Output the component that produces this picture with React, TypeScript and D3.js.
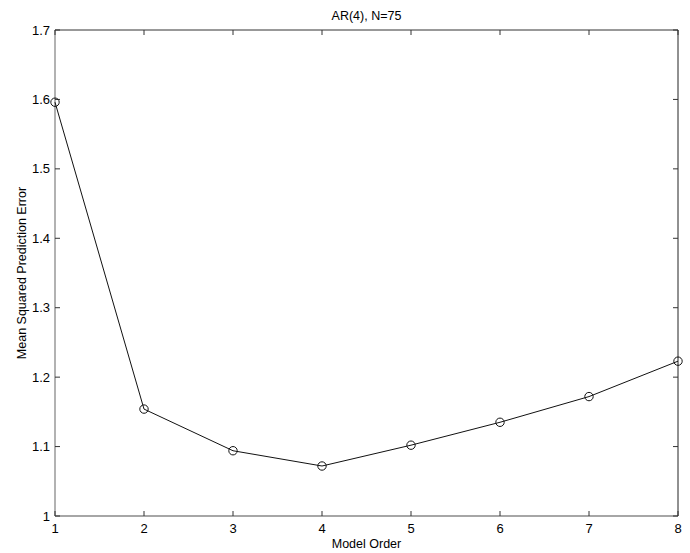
import { useEffect, useRef } from 'react';
import * as d3 from 'd3';

const modelOrders = [1, 2, 3, 4, 5, 6, 7, 8];
const msePred = [1.596, 1.154, 1.094, 1.072, 1.102, 1.135, 1.172, 1.223];
const yTicks = [1, 1.1, 1.2, 1.3, 1.4, 1.5, 1.6, 1.7];
const titleText = 'AR(4), N=75';
const xLabel = 'Model Order';
const yLabel = 'Mean Squared Prediction Error';

const App = () => {
	const ref = useRef<SVGSVGElement>(null);

	useEffect(() => {
		const margin = { top: 30, right: 12, bottom: 37, left: 55 },
			width = 690,
			height = 553;
		const svg = d3.select(ref.current);
		svg.selectAll('*').remove();

		const x = d3.scaleLinear().domain([1, 8]).range([margin.left, width - margin.right]);
		const y = d3.scaleLinear().domain([1, 1.7]).range([height - margin.bottom, margin.top]);
		const font = 'Liberation Sans, Arial, sans-serif';

		// frame
		const [x0, x1] = x.range();
		const [y0, y1] = y.range();
		svg.append('line').attr('x1', x0).attr('x2', x0).attr('y1', y0).attr('y2', y1).attr('stroke', '#999').attr('stroke-width', 1.5);
		svg.append('line').attr('x1', x0).attr('x2', x1).attr('y1', y0).attr('y2', y0).attr('stroke', '#888').attr('stroke-width', 1.5);
		svg.append('line').attr('x1', x0).attr('x2', x1).attr('y1', y1).attr('y2', y1).attr('stroke', '#333').attr('stroke-width', 1);
		svg.append('line').attr('x1', x1).attr('x2', x1).attr('y1', y0).attr('y2', y1).attr('stroke', '#222').attr('stroke-width', 1);

		// inward ticks
		const tl = 5;
		const g = svg.append('g').attr('stroke', '#333').attr('stroke-width', 1);
		modelOrders.forEach((d) => {
			g.append('line').attr('x1', x(d)).attr('x2', x(d)).attr('y1', y0).attr('y2', y0 - tl);
			g.append('line').attr('x1', x(d)).attr('x2', x(d)).attr('y1', y1).attr('y2', y1 + tl);
		});
		yTicks.forEach((d) => {
			g.append('line').attr('x1', x0).attr('x2', x0 + tl).attr('y1', y(d)).attr('y2', y(d));
			g.append('line').attr('x1', x1).attr('x2', x1 - tl).attr('y1', y(d)).attr('y2', y(d));
		});

		// tick labels
		svg.append('g')
			.selectAll('text')
			.data(modelOrders)
			.join('text')
			.attr('x', (d) => x(d))
			.attr('y', y0 + 17)
			.attr('text-anchor', 'middle')
			.attr('font-family', font)
			.attr('font-size', 13)
			.text((d) => d);
		svg.append('g')
			.selectAll('text')
			.data(yTicks)
			.join('text')
			.attr('x', x0 - 5)
			.attr('y', (d) => y(d))
			.attr('dy', '0.35em')
			.attr('text-anchor', 'end')
			.attr('font-family', font)
			.attr('font-size', 13)
			.text((d) => (d === 1 ? '1' : d3.format('.1f')(d)));

		// line + markers
		const data = modelOrders.map((d, i) => ({ k: d, v: msePred[i] }));
		svg.append('path')
			.datum(data)
			.attr('fill', 'none')
			.attr('stroke', '#111')
			.attr('stroke-width', 1)
			.attr('d', d3.line<{ k: number; v: number }>().x((d) => x(d.k)).y((d) => y(d.v)));
		svg.append('g')
			.selectAll('circle')
			.data(data)
			.join('circle')
			.attr('cx', (d) => x(d.k))
			.attr('cy', (d) => y(d.v))
			.attr('r', 4.2)
			.attr('fill', 'none')
			.attr('stroke', '#111')
			.attr('stroke-width', 1);

		// labels
		svg.append('text')
			.attr('x', (x0 + x1) / 2)
			.attr('y', 20)
			.attr('text-anchor', 'middle')
			.attr('font-family', font)
			.attr('font-size', 12.5)
			.text(titleText);
		svg.append('text')
			.attr('x', (x0 + x1) / 2)
			.attr('y', 548)
			.attr('text-anchor', 'middle')
			.attr('font-family', font)
			.attr('font-size', 12.5)
			.text(xLabel);
		svg.append('text')
			.attr('transform', `translate(26, ${(y0 + y1) / 2}) rotate(-90)`)
			.attr('text-anchor', 'middle')
			.attr('font-family', font)
			.attr('font-size', 12.5)
			.text(yLabel);
	}, []);

	return <svg ref={ref} width={690} height={553} style={{ position: 'absolute', left: 0, top: 0, background: '#fff' }}></svg>;
};

export default App;
